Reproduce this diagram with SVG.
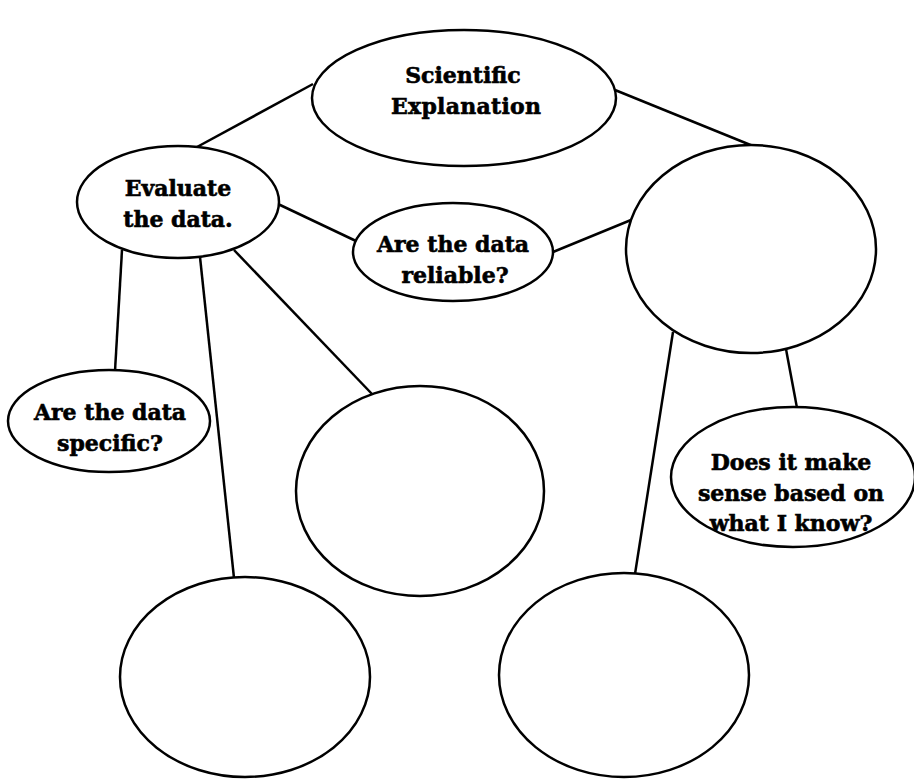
<svg xmlns="http://www.w3.org/2000/svg" width="914" height="779" viewBox="0 0 914 779">
  <style>
    .edge { stroke: #000; stroke-width: 2.5; fill: none; }
    .node { stroke: #000; stroke-width: 2.5; fill: #fff; }
    .label { font-family: "DejaVu Serif", "Liberation Serif", serif; font-weight: bold; font-size: 22px; text-anchor: middle; fill: #000; stroke: #000; stroke-width: 0.6; }
  </style>
  <rect width="914" height="779" fill="#fff"/>
  <g id="connectors">
    <line class="edge" x1="313" y1="84" x2="197" y2="147"/>
    <line class="edge" x1="615" y1="90" x2="753" y2="146"/>
    <line class="edge" x1="278" y1="204" x2="356" y2="241"/>
    <line class="edge" x1="553" y1="252" x2="631" y2="220"/>
    <line class="edge" x1="122" y1="250" x2="115" y2="371"/>
    <line class="edge" x1="200" y1="257" x2="234" y2="578"/>
    <line class="edge" x1="234" y1="250" x2="372" y2="394"/>
    <line class="edge" x1="673" y1="332" x2="635" y2="574"/>
    <line class="edge" x1="786" y1="349" x2="797" y2="408"/>
  </g>
  <g id="scientific-explanation">
    <ellipse class="node" cx="464" cy="98" rx="152" ry="68"/>
    <text class="label" x="463" y="83">Scientific</text>
    <text class="label" x="466" y="114" textLength="150">Explanation</text>
  </g>
  <g id="evaluate-data">
    <ellipse class="node" cx="178" cy="202" rx="101" ry="56"/>
    <text class="label" x="178" y="196">Evaluate</text>
    <text class="label" x="178" y="227">the data.</text>
  </g>
  <g id="data-reliable">
    <ellipse class="node" cx="453" cy="252" rx="100" ry="49"/>
    <text class="label" x="453" y="252">Are the data</text>
    <text class="label" x="455" y="283">reliable?</text>
  </g>
  <g id="right-blank">
    <ellipse class="node" cx="751" cy="249" rx="125" ry="104"/>
  </g>
  <g id="data-specific">
    <ellipse class="node" cx="109" cy="421" rx="101" ry="51"/>
    <text class="label" x="110" y="420">Are the data</text>
    <text class="label" x="110" y="451">specific?</text>
  </g>
  <g id="middle-blank">
    <ellipse class="node" cx="420" cy="491" rx="124" ry="105"/>
  </g>
  <g id="makes-sense">
    <ellipse class="node" cx="793" cy="477" rx="122" ry="70"/>
    <text class="label" x="791" y="470">Does it make</text>
    <text class="label" x="791" y="501">sense based on</text>
    <text class="label" x="791" y="531">what I know?</text>
  </g>
  <g id="bottom-left-blank">
    <ellipse class="node" cx="245" cy="677" rx="125" ry="100"/>
  </g>
  <g id="bottom-right-blank">
    <ellipse class="node" cx="624" cy="675" rx="125" ry="102"/>
  </g>
</svg>
